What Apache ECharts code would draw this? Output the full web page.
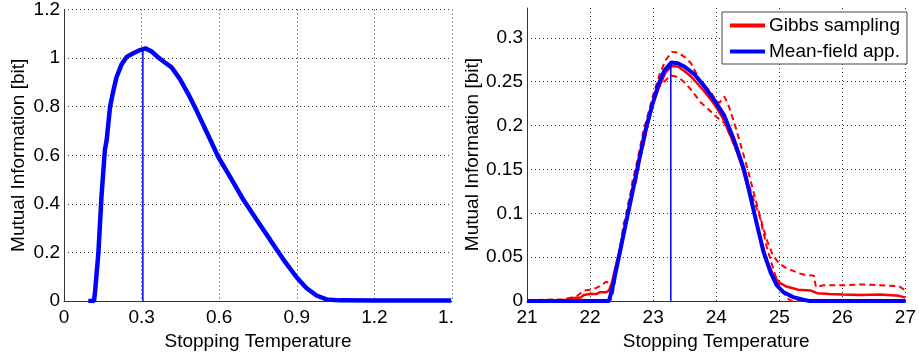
<!DOCTYPE html>
<html>
<head>
<meta charset="utf-8">
<script src="https://cdn.jsdelivr.net/npm/echarts@6/dist/echarts.min.js"></script>
<style>
    html, body {margin: 0; padding: 0; background: #fff;}
    #chart {width: 919px; height: 356px;}
</style>
</head>
<body>
<div id="chart"></div>
<script>
// left panel: single mean-field curve
const leftTemp = [0.094, 0.116, 0.120, 0.133, 0.145, 0.158, 0.165, 0.178, 0.191, 0.203, 0.223, 0.242, 0.268, 0.294, 0.315, 0.339, 0.364, 0.390, 0.416, 0.448, 0.480, 0.512, 0.551, 0.596, 0.641, 0.693, 0.744, 0.796, 0.847, 0.899, 0.937, 0.976, 1.015, 1.066, 1.2, 1.35, 1.497];
const leftInfo = [0, 0, 0.037, 0.2, 0.431, 0.622, 0.663, 0.799, 0.867, 0.921, 0.975, 1.005, 1.020, 1.033, 1.040, 1.027, 1.003, 0.982, 0.962, 0.914, 0.853, 0.785, 0.697, 0.594, 0.513, 0.418, 0.336, 0.254, 0.173, 0.098, 0.054, 0.023, 0.007, 0.003, 0.002, 0.002, 0.002];
const leftPeak = [0.305, 1.032];

// right panel: mean-field approximation
const mfTemp = [21, 22.30, 22.35, 22.45, 22.56, 22.66, 22.77, 22.87, 22.98, 23.08, 23.18, 23.29, 23.39, 23.50, 23.66, 23.81, 23.97, 24.13, 24.28, 24.44, 24.54, 24.65, 24.75, 24.86, 24.96, 25.07, 25.22, 25.38, 25.49, 27];
const mfInfo = [0, 0, 0.014, 0.048, 0.086, 0.12, 0.158, 0.192, 0.222, 0.246, 0.263, 0.272, 0.271, 0.267, 0.258, 0.245, 0.229, 0.211, 0.184, 0.150, 0.120, 0.086, 0.056, 0.033, 0.018, 0.010, 0.0045, 0.0015, 0, 0];
const rightPeak = [23.28, 0.271];

// right panel: Gibbs sampling mean and bounds (noisy)
const gibbsTemp = [21, 21.6, 21.65, 21.85, 21.9, 22.0, 22.1, 22.15, 22.25, 22.3, 22.35, 22.4, 22.45, 22.5, 22.55, 22.58, 22.6, 22.65, 22.7, 22.72, 22.75, 22.8, 22.85, 22.9, 22.95, 23.0, 23.1, 23.2, 23.3, 23.4, 23.5, 23.6, 23.7, 23.8, 23.9, 24.0, 24.1, 24.2, 24.3, 24.4, 24.5, 24.6, 24.7, 24.8, 24.9, 25.0, 25.1, 25.2, 25.3, 25.5, 25.6, 25.8, 26.0, 26.3, 26.6, 26.9, 27];
const gibbsMean = [0.001, 0.001, 0.003, 0.004, 0.007, 0.008, 0.008, 0.010, 0.010, 0.012, 0.022, 0.038, 0.052, 0.068, 0.085, 0.090, 0.104, 0.115, 0.138, 0.134, 0.148, 0.168, 0.180, 0.198, 0.212, 0.225, 0.245, 0.261, 0.268, 0.267, 0.262, 0.256, 0.248, 0.240, 0.231, 0.221, 0.209, 0.193, 0.176, 0.155, 0.130, 0.101, 0.072, 0.047, 0.030, 0.021, 0.017, 0.015, 0.013, 0.012, 0.009, 0.008, 0.0075, 0.007, 0.0075, 0.006, 0.004];

const upperTemp = [21, 21.6, 21.8, 21.9, 22.0, 22.1, 22.2, 22.25, 22.3, 22.35, 22.4, 22.45, 22.5, 22.53, 22.55, 22.6, 22.65, 22.68, 22.7, 22.75, 22.8, 22.85, 22.9, 23.0, 23.1, 23.2, 23.3, 23.4, 23.5, 23.6, 23.76, 23.9, 24.0, 24.05, 24.13, 24.2, 24.3, 24.4, 24.5, 24.6, 24.7, 24.8, 24.9, 25.0, 25.1, 25.2, 25.3, 25.4, 25.55, 25.58, 25.7, 26.0, 26.3, 26.6, 26.9, 27];
const gibbsUpper = [0.001, 0.002, 0.006, 0.012, 0.013, 0.015, 0.019, 0.022, 0.021, 0.020, 0.034, 0.050, 0.072, 0.088, 0.092, 0.110, 0.125, 0.140, 0.145, 0.160, 0.178, 0.195, 0.208, 0.235, 0.258, 0.275, 0.284, 0.283, 0.278, 0.271, 0.249, 0.240, 0.228, 0.226, 0.233, 0.222, 0.200, 0.175, 0.150, 0.122, 0.095, 0.070, 0.052, 0.043, 0.038, 0.035, 0.032, 0.030, 0.029, 0.016, 0.018, 0.018, 0.019, 0.018, 0.017, 0.012];

const lowerTemp = [21, 22.3, 22.35, 22.4, 22.46, 22.55, 22.6, 22.66, 22.75, 22.82, 22.9, 22.98, 23.08, 23.2, 23.29, 23.4, 23.5, 23.6, 23.76, 23.9, 24.0, 24.13, 24.2, 24.3, 24.44, 24.55, 24.7, 24.8, 24.92, 25.0, 25.13, 25.2, 27];
const gibbsLower = [0, 0, 0.004, 0.025, 0.056, 0.090, 0.100, 0.131, 0.150, 0.169, 0.195, 0.222, 0.243, 0.252, 0.257, 0.255, 0.249, 0.241, 0.226, 0.217, 0.210, 0.203, 0.192, 0.175, 0.150, 0.125, 0.0935, 0.062, 0.033, 0.016, 0.003, 0, 0];

const leftTicks = {min: 0, max: 1.5, interval: 0.3};
const rightTicks = {min: 21, max: 27, interval: 1};

const pairs = (xs, ys) => xs.map((x, i) => [x, ys[i]]);
const FONT = "'Liberation Sans', Arial, sans-serif";
const BLUE = "#0000ff";
const RED = "#ff0000";

const axisLine = {lineStyle: {color: "#333", width: 1}};
const grid = {show: true, lineStyle: {color: "#333", type: [1, 3], width: 1}};
const label = {color: "#000", fontSize: 19, fontFamily: FONT};
const nameStyle = {color: "#000", fontSize: 19, fontFamily: FONT};

const chart = echarts.init(document.getElementById("chart"));

chart.setOption({
    animation: false,
    grid: [
        {left: 64, top: 8, width: 388, height: 294},
        {left: 527, top: 8, width: 382, height: 294}
    ],
    xAxis: [
        {
            type: "value", gridIndex: 0,
            min: leftTicks.min, max: leftTicks.max, interval: leftTicks.interval,
            name: "Stopping Temperature", nameLocation: "middle", nameGap: 25,
            nameTextStyle: nameStyle,
            axisLine: axisLine, axisTick: {show: false}, splitLine: grid,
            axisLabel: {
                ...label, margin: 7,
                // the last label is cut off in the figure
                formatter: v => v === 1.5 ? "{c|1.}" : String(v),
                rich: {c: {fontSize: 19, fontFamily: FONT, color: "#000", padding: [0, 12, 0, 0]}}
            }
        },
        {
            type: "value", gridIndex: 1,
            min: rightTicks.min, max: rightTicks.max, interval: rightTicks.interval,
            name: "Stopping Temperature", nameLocation: "middle", nameGap: 25,
            nameTextStyle: nameStyle,
            axisLine: axisLine, axisTick: {show: false}, splitLine: grid,
            axisLabel: {...label, margin: 7}
        }
    ],
    yAxis: [
        {
            type: "value", gridIndex: 0, min: 0, max: 1.2, interval: 0.2,
            name: "Mutual Information [bit]", nameLocation: "middle", nameGap: 36,
            nameTextStyle: nameStyle,
            axisLine: {show: true, ...axisLine}, axisTick: {show: false}, splitLine: grid,
            axisLabel: {...label, margin: 4}
        },
        {
            type: "value", gridIndex: 1, min: 0, max: 0.334, interval: 0.05,
            name: "Mutual Information [bit]", nameLocation: "middle", nameGap: 45,
            nameTextStyle: nameStyle,
            axisLine: {show: true, ...axisLine}, axisTick: {show: false},
            splitLine: {...grid, showMaxLine: false},
            axisLabel: {...label, margin: 4, showMaxLabel: false}
        }
    ],
    legend: {
        orient: "vertical",
        left: 722, top: 12,
        data: ["Gibbs sampling", "Mean-field app."],
        icon: "rect", itemWidth: 35, itemHeight: 4, itemGap: 7,
        padding: [4, 7, 3, 8],
        backgroundColor: "#fff", borderColor: "#444", borderWidth: 1,
        textStyle: {color: "#000", fontSize: 19, fontFamily: FONT, padding: [0, 0, 0, -1]}
    },
    series: [
        {
            type: "line", xAxisIndex: 0, yAxisIndex: 0, showSymbol: false,
            data: pairs(leftTemp, leftInfo),
            lineStyle: {color: BLUE, width: 4.5}, itemStyle: {color: BLUE}
        },
        {
            type: "line", xAxisIndex: 0, yAxisIndex: 0, showSymbol: false,
            data: [[leftPeak[0], 0], leftPeak],
            lineStyle: {color: BLUE, width: 1.5}
        },
        {
            name: "Gibbs upper", type: "line", xAxisIndex: 1, yAxisIndex: 1, showSymbol: false,
            data: pairs(upperTemp, gibbsUpper),
            lineStyle: {color: RED, width: 2, type: [6, 4]}
        },
        {
            name: "Gibbs lower", type: "line", xAxisIndex: 1, yAxisIndex: 1, showSymbol: false,
            data: pairs(lowerTemp, gibbsLower),
            lineStyle: {color: RED, width: 2, type: [6, 4]}
        },
        {
            name: "Gibbs sampling", type: "line", xAxisIndex: 1, yAxisIndex: 1, showSymbol: false,
            data: pairs(gibbsTemp, gibbsMean),
            lineStyle: {color: RED, width: 2.5}, itemStyle: {color: RED}
        },
        {
            name: "Mean-field app.", type: "line", xAxisIndex: 1, yAxisIndex: 1, showSymbol: false,
            data: pairs(mfTemp, mfInfo),
            lineStyle: {color: BLUE, width: 4}, itemStyle: {color: BLUE}
        },
        {
            type: "line", xAxisIndex: 1, yAxisIndex: 1, showSymbol: false,
            data: [[rightPeak[0], 0], rightPeak],
            lineStyle: {color: BLUE, width: 1.5}
        }
    ]
});
</script>
</body>
</html>
